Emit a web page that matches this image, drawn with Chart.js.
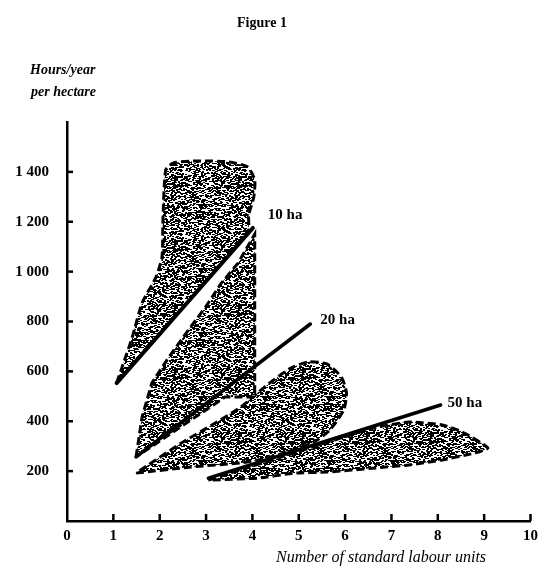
<!DOCTYPE html>
<html>
<head>
<meta charset="utf-8">
<script src="https://cdn.jsdelivr.net/npm/chart.js@4.4.0/dist/chart.umd.min.js"></script>
<style>
  html, body { margin: 0; padding: 0; background: #fff; }
</style>
</head>
<body>
<canvas id="graph1" width="544" height="566"></canvas>
<script>
  // ---- data (x = labour units, y = hours/year per ha) ----
  const xTicks = [0, 1, 2, 3, 4, 5, 6, 7, 8, 9, 10]
  const yTicks = [200, 400, 600, 800, 1000, 1200, 1400]
  const yTickLabels = ['200', '400', '600', '800', '1 000', '1 200', '1 400']

  // shaded zones
  const zoneA_x = [1.07, 1.19, 1.41, 1.62, 1.92, 2.05, 2.07, 2.13, 2.30, 2.84, 3.48, 3.90, 4.05, 4.03, 3.92, 3.90, 1.07]
  const zoneA_y = [553, 618, 738, 874, 978, 1059, 1207, 1408, 1436, 1444, 1440, 1420, 1367, 1299, 1227, 1162, 553]
  const zoneB_x = [1.49, 1.62, 1.83, 2.20, 2.62, 2.99, 3.33, 3.69, 4.05, 4.05, 3.41, 1.49]
  const zoneB_y = [257, 417, 553, 658, 766, 858, 954, 1034, 1150, 497, 497, 257]
  const zoneC_x = [1.49, 2.69, 3.75, 4.33, 5.33, 5.67, 5.97, 6.03, 5.92, 5.60, 5.20, 4.80, 4.26, 3.75, 3.20, 2.47, 1.49]
  const zoneC_y = [192, 217, 233, 253, 317, 365, 445, 513, 577, 630, 638, 610, 537, 457, 393, 313, 192]
  const zoneD_x = [3.05, 4.97, 6.61, 7.38, 8.10, 8.53, 9.08, 8.81, 8.10, 7.38, 6.67, 5.61, 4.90, 4.12, 3.05]
  const zoneD_y = [164, 277, 373, 397, 385, 357, 293, 273, 245, 225, 213, 196, 192, 172, 164]

  // farm size lines
  const lineNames = ['10 ha', '20 ha', '50 ha']
  const line10_x = [1.07, 4.01]
  const line10_y = [553, 1175]
  const line20_x = [1.49, 5.25]
  const line20_y = [257, 790]
  const line50_x = [3.05, 8.06]
  const line50_y = [172, 465]

  const serif = '"Liberation Serif", "DejaVu Serif", serif'
  const pts = (xs, ys) => xs.map((x, i) => ({ x: x, y: ys[i] }))

  // stippled fill like the printed figure
  function stipple() {
    const c = document.createElement('canvas')
    c.width = 64; c.height = 64
    const g = c.getContext('2d')
    g.fillStyle = '#fff'
    g.fillRect(0, 0, 64, 64)
    g.fillStyle = '#000'
    for (let y = 0; y < 64; y++) {
      for (let x = 0; x < 64; x++) {
        const h = Math.sin(x * 12.9898 + y * 78.233) * 43758.5453
        if (h - Math.floor(h) < 0.36) g.fillRect(x, y, 2, 1)
      }
    }
    return g.createPattern(c, 'repeat')
  }
  const pat = stipple()

  const zone = (xs, ys, tension) => ({
    data: pts(xs, ys),
    borderColor: '#000',
    borderWidth: 3,
    borderDash: [8, 4],
    backgroundColor: pat,
    fill: 'shape',
    pointRadius: 0,
    tension: tension,
    order: 2
  })
  const farmLine = (xs, ys, name, w) => ({
    label: name,
    data: pts(xs, ys),
    borderColor: '#000',
    borderWidth: w,
    borderCapStyle: 'round',
    fill: false,
    pointRadius: 0,
    order: 1
  })

  // label offsets from the end of each line, in pixels
  const labelOffsets = [[15, -13], [10, -4], [7, -2]]

  const decor = {
    id: 'decor',
    afterDraw(chart) {
      const ctx = chart.ctx
      const sx = chart.scales.x
      const sy = chart.scales.y
      ctx.save()
      ctx.strokeStyle = '#000'
      ctx.lineWidth = 2.5
      // inward ticks
      yTicks.forEach(v => {
        const p = sy.getPixelForValue(v)
        ctx.beginPath(); ctx.moveTo(sx.left, p); ctx.lineTo(sx.left + 6, p); ctx.stroke()
      })
      xTicks.slice(1).forEach(v => {
        const p = sx.getPixelForValue(v)
        ctx.beginPath(); ctx.moveTo(p, sy.bottom); ctx.lineTo(p, sy.bottom - 7); ctx.stroke()
      })
      ctx.fillStyle = '#000'
      ctx.textBaseline = 'middle'
      // line labels
      ctx.font = 'bold 15px ' + serif
      ctx.textAlign = 'left'
      lineNames.forEach((name, i) => {
        const meta = chart.getDatasetMeta(i)
        const end = meta.data[meta.data.length - 1]
        ctx.fillText(name, end.x + labelOffsets[i][0], end.y + labelOffsets[i][1])
      })
      // titles
      ctx.textAlign = 'center'
      ctx.font = 'bold 14px ' + serif
      ctx.fillText('Figure 1', 262, 23)
      ctx.textAlign = 'left'
      ctx.font = 'italic bold 14px ' + serif
      ctx.fillText('Hours/year', 30, 70)
      ctx.fillText('per hectare', 31, 92)
      ctx.textAlign = 'center'
      ctx.font = 'italic 16px ' + serif
      ctx.fillText('Number of standard labour units', 381, 558)
      ctx.restore()
    }
  }

  new Chart(document.getElementById('graph1'), {
    type: 'line',
    data: {
      datasets: [
        farmLine(line10_x, line10_y, lineNames[0], 4),
        farmLine(line20_x, line20_y, lineNames[1], 3.5),
        farmLine(line50_x, line50_y, lineNames[2], 3.5),
        zone(zoneA_x, zoneA_y, 0.2),
        zone(zoneB_x, zoneB_y, 0),
        zone(zoneC_x, zoneC_y, 0.2),
        zone(zoneD_x, zoneD_y, 0.15)
      ]
    },
    options: {
      responsive: false,
      animation: false,
      devicePixelRatio: 1,
      layout: { padding: { top: 122, right: 8, bottom: 0, left: 0 } },
      plugins: { legend: { display: false }, tooltip: { enabled: false } },
      scales: {
        x: {
          type: 'linear',
          min: 0,
          max: 10,
          grid: { display: false, drawTicks: false },
          border: { display: true, color: '#000', width: 2.5 },
          ticks: { stepSize: 1, color: '#000', padding: 6, font: { family: serif, size: 15, weight: 'bold' } },
          afterFit: s => { s.height = 45 }
        },
        y: {
          min: 0,
          max: 1600,
          grid: { display: false, drawTicks: false },
          border: { display: true, color: '#000', width: 2.5 },
          ticks: {
            stepSize: 200,
            color: '#000',
            padding: 18,
            font: { family: serif, size: 15, weight: 'bold' },
            callback: v => {
              const i = yTicks.indexOf(v)
              return i >= 0 ? yTickLabels[i] : ''
            }
          },
          afterFit: s => { s.width = 67 }
        }
      }
    },
    plugins: [decor]
  })
</script>
</body>
</html>
